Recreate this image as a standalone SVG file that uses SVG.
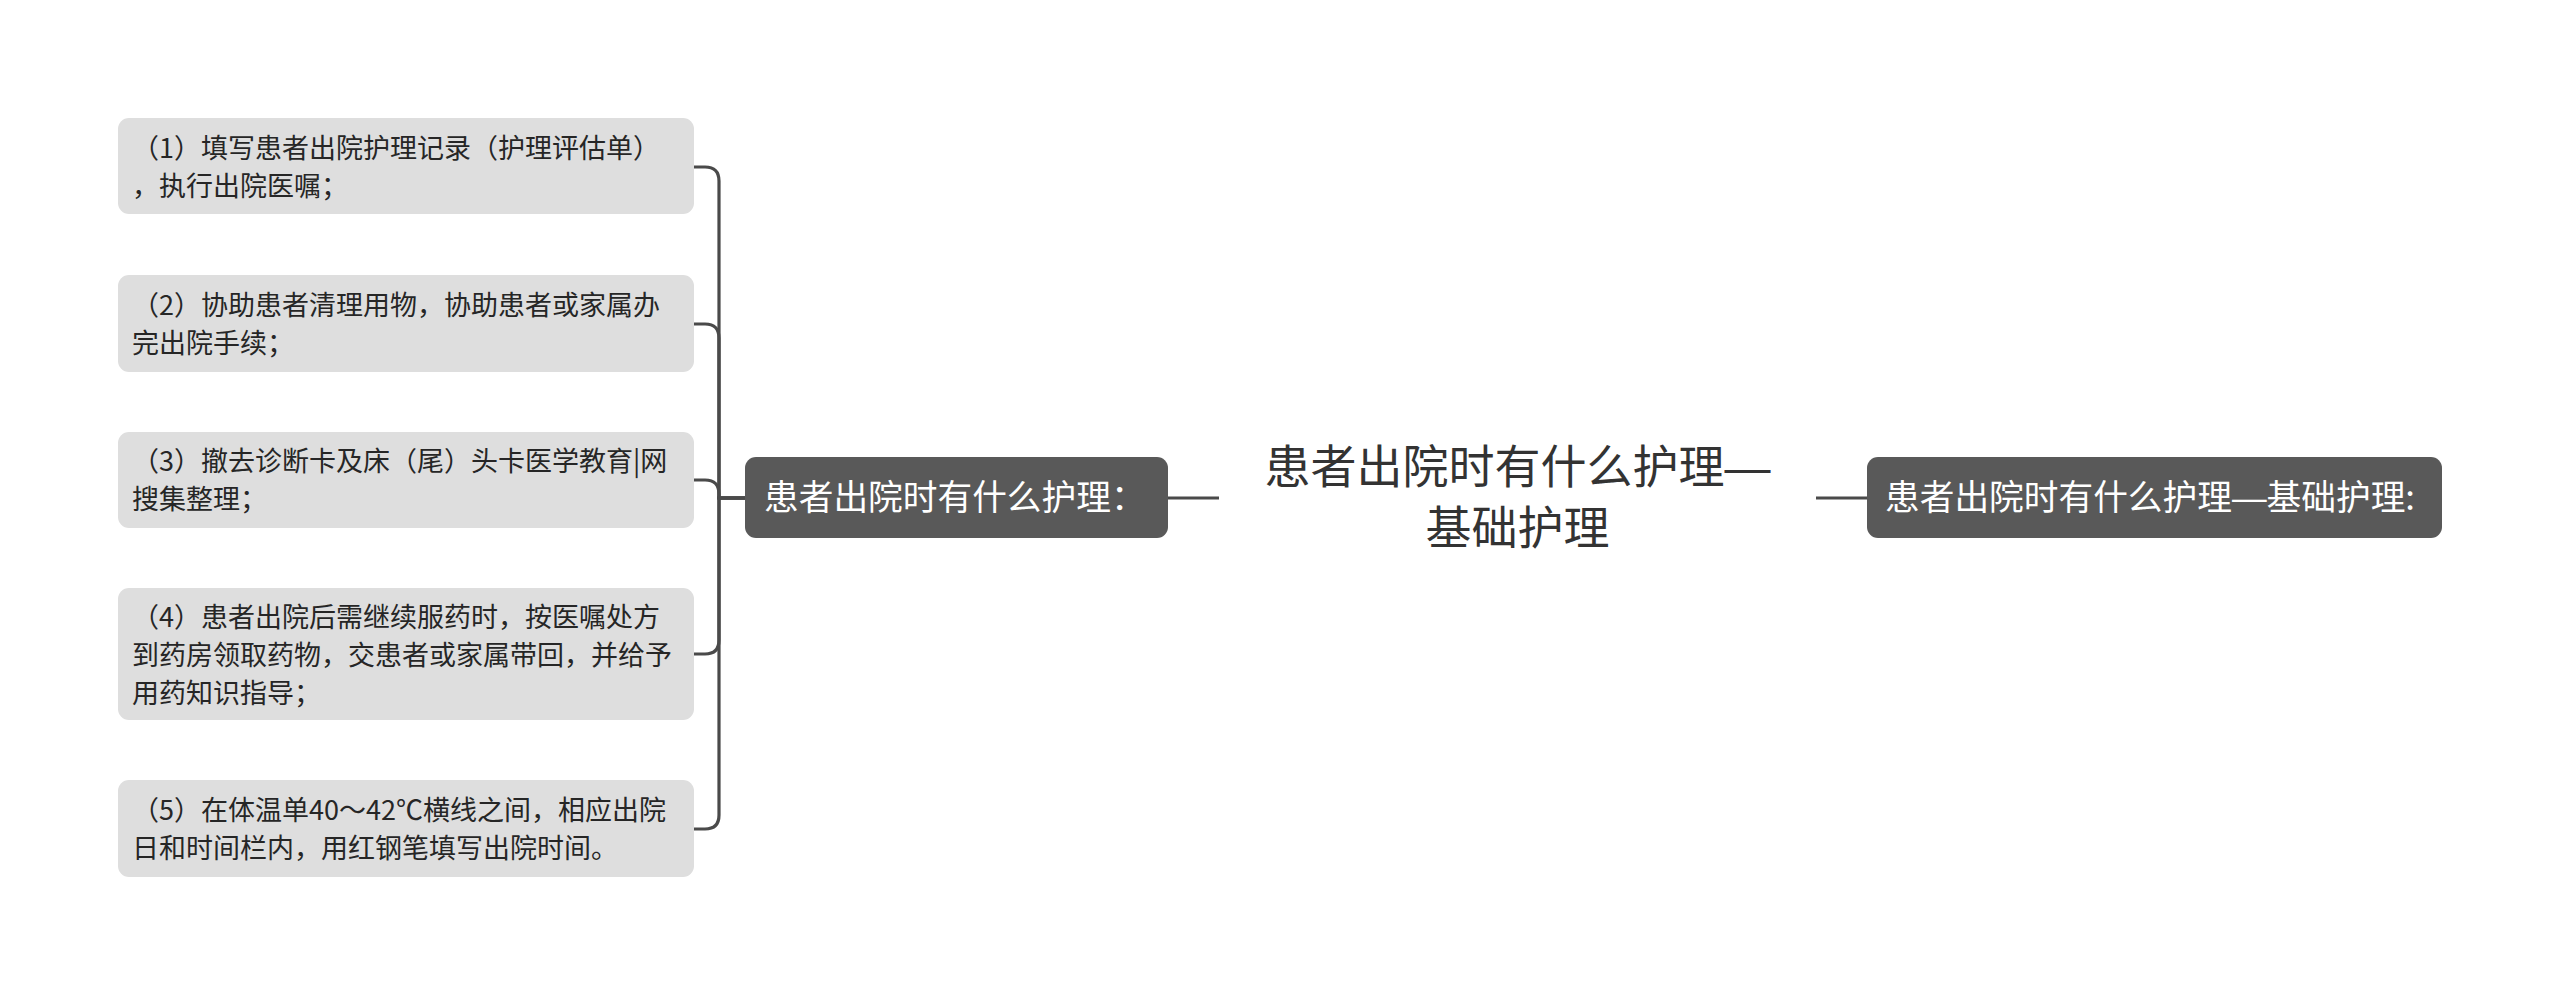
<svg xmlns="http://www.w3.org/2000/svg" width="2560" height="996" viewBox="0 0 2560 996">
<style>
.leaf rect{fill:#dedede;}
.leaf text{font-family:"Microsoft YaHei","Noto Sans CJK SC","Noto Sans",sans-serif;font-size:27px;fill:#262626;}
.sub rect{fill:#595959;}
.sub text{font-family:"Microsoft YaHei","Noto Sans CJK SC","Noto Sans",sans-serif;font-size:34.7px;fill:#ffffff;}
.root text{font-family:"Microsoft YaHei","Noto Sans CJK SC","Noto Sans",sans-serif;font-size:46px;fill:#333333;text-anchor:middle;}
.dash{font-family:"Liberation Sans",sans-serif;}
.conn path{fill:none;stroke:#4a4a4a;stroke-width:3.2;}
</style>
<rect width="2560" height="996" fill="#ffffff"/>
<g id="connectors" class="conn">
<path d="M1168 498 H1219"/>
<path d="M1816 498 H1867"/>
<path d="M745 498 H719 V181 Q719 167 705 167 H694"/>
<path d="M745 498 H719 V338 Q719 324 705 324 H694"/>
<path d="M745 498 H719 V494 Q719 480 705 480 H694"/>
<path d="M745 498 H719 V640 Q719 654 705 654 H694"/>
<path d="M745 498 H719 V815 Q719 829 705 829 H694"/>
</g>
<g id="root" class="root">
<text x="1517.5" y="483">患者出院时有什么护理<tspan class="dash">—</tspan></text>
<text x="1517.5" y="544">基础护理</text>
</g>
<g id="node-main" class="sub">
<rect x="745" y="457" width="423" height="81" rx="11"/>
<text x="764" y="510">患者出院时有什么护理：</text>
</g>
<g id="node-right" class="sub">
<rect x="1867" y="457" width="575" height="81" rx="11"/>
<text x="1885" y="510">患者出院时有什么护理<tspan class="dash">—</tspan>基础护理:</text>
</g>
<g id="leaf1" class="leaf">
<rect x="118" y="118" width="576" height="96" rx="11"/>
<text x="132" y="158">（1）填写患者出院护理记录（护理评估单）</text>
<text x="132" y="196">，执行出院医嘱；</text>
</g>
<g id="leaf2" class="leaf">
<rect x="118" y="275" width="576" height="97" rx="11"/>
<text x="132" y="315">（2）协助患者清理用物，协助患者或家属办</text>
<text x="132" y="353">完出院手续；</text>
</g>
<g id="leaf3" class="leaf">
<rect x="118" y="432" width="576" height="96" rx="11"/>
<text x="132" y="471">（3）撤去诊断卡及床（尾）头卡医学教育|网</text>
<text x="132" y="509">搜集整理；</text>
</g>
<g id="leaf4" class="leaf">
<rect x="118" y="588" width="576" height="132" rx="11"/>
<text x="132" y="627">（4）患者出院后需继续服药时，按医嘱处方</text>
<text x="132" y="665">到药房领取药物，交患者或家属带回，并给予</text>
<text x="132" y="703">用药知识指导；</text>
</g>
<g id="leaf5" class="leaf">
<rect x="118" y="780" width="576" height="97" rx="11"/>
<text x="132" y="820">（5）在体温单40～42℃横线之间，相应出院</text>
<text x="132" y="858">日和时间栏内，用红钢笔填写出院时间。</text>
</g>
</svg>
